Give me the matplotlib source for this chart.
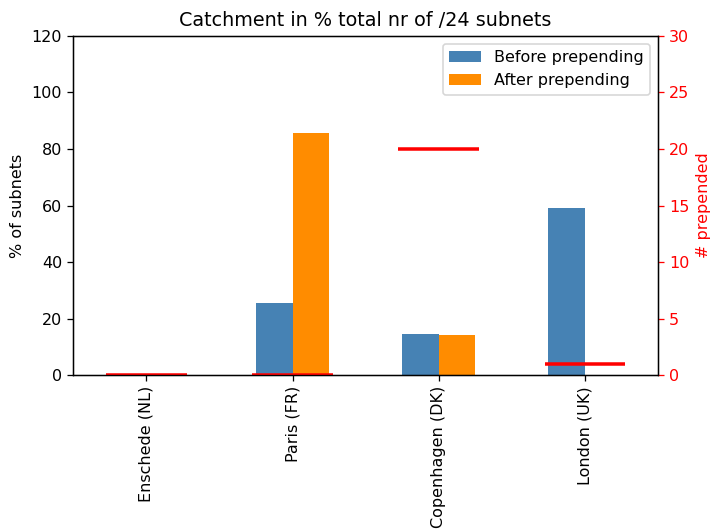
import matplotlib
matplotlib.use('Agg')
import matplotlib.pyplot as plt
import numpy as np

sites = ['Enschede (NL)', 'Paris (FR)', 'Copenhagen (DK)', 'London (UK)']
before = [0.0, 25.5, 14.6, 59.1]
after = [0.0, 85.5, 14.2, 0.0]
prepended = [0, 0, 20, 1]

dpi = 115
fig, ax = plt.subplots(figsize=(712 / dpi, 529 / dpi), dpi=dpi)
x = np.arange(len(sites))
w = 0.25

# grouped bars
ax.bar(x - w / 2, before, w, color='steelblue', label='Before prepending')
ax.bar(x + w / 2, after, w, color='darkorange', label='After prepending')
ax.set_xlim(-0.5, len(sites) - 0.5)
ax.set_ylim(0, 120)
ax.set_xticks(x)
ax.set_xticklabels(sites, rotation=90)
ax.set_ylabel('% of subnets')
ax.set_title('Catchment in % total nr of /24 subnets')
ax.legend(loc='upper right')

# prepend count on second axis
ax2 = ax.twinx()
ax2.hlines(prepended, x - 0.275, x + 0.275, colors='red', linewidth=2.2)
ax2.set_ylim(0, 30)
ax2.set_ylabel('# prepended', color='red')
ax2.tick_params(axis='y', colors='red')

plt.subplots_adjust(left=0.103, right=0.924, top=0.932, bottom=0.291)
plt.savefig('out.png', dpi=dpi)
